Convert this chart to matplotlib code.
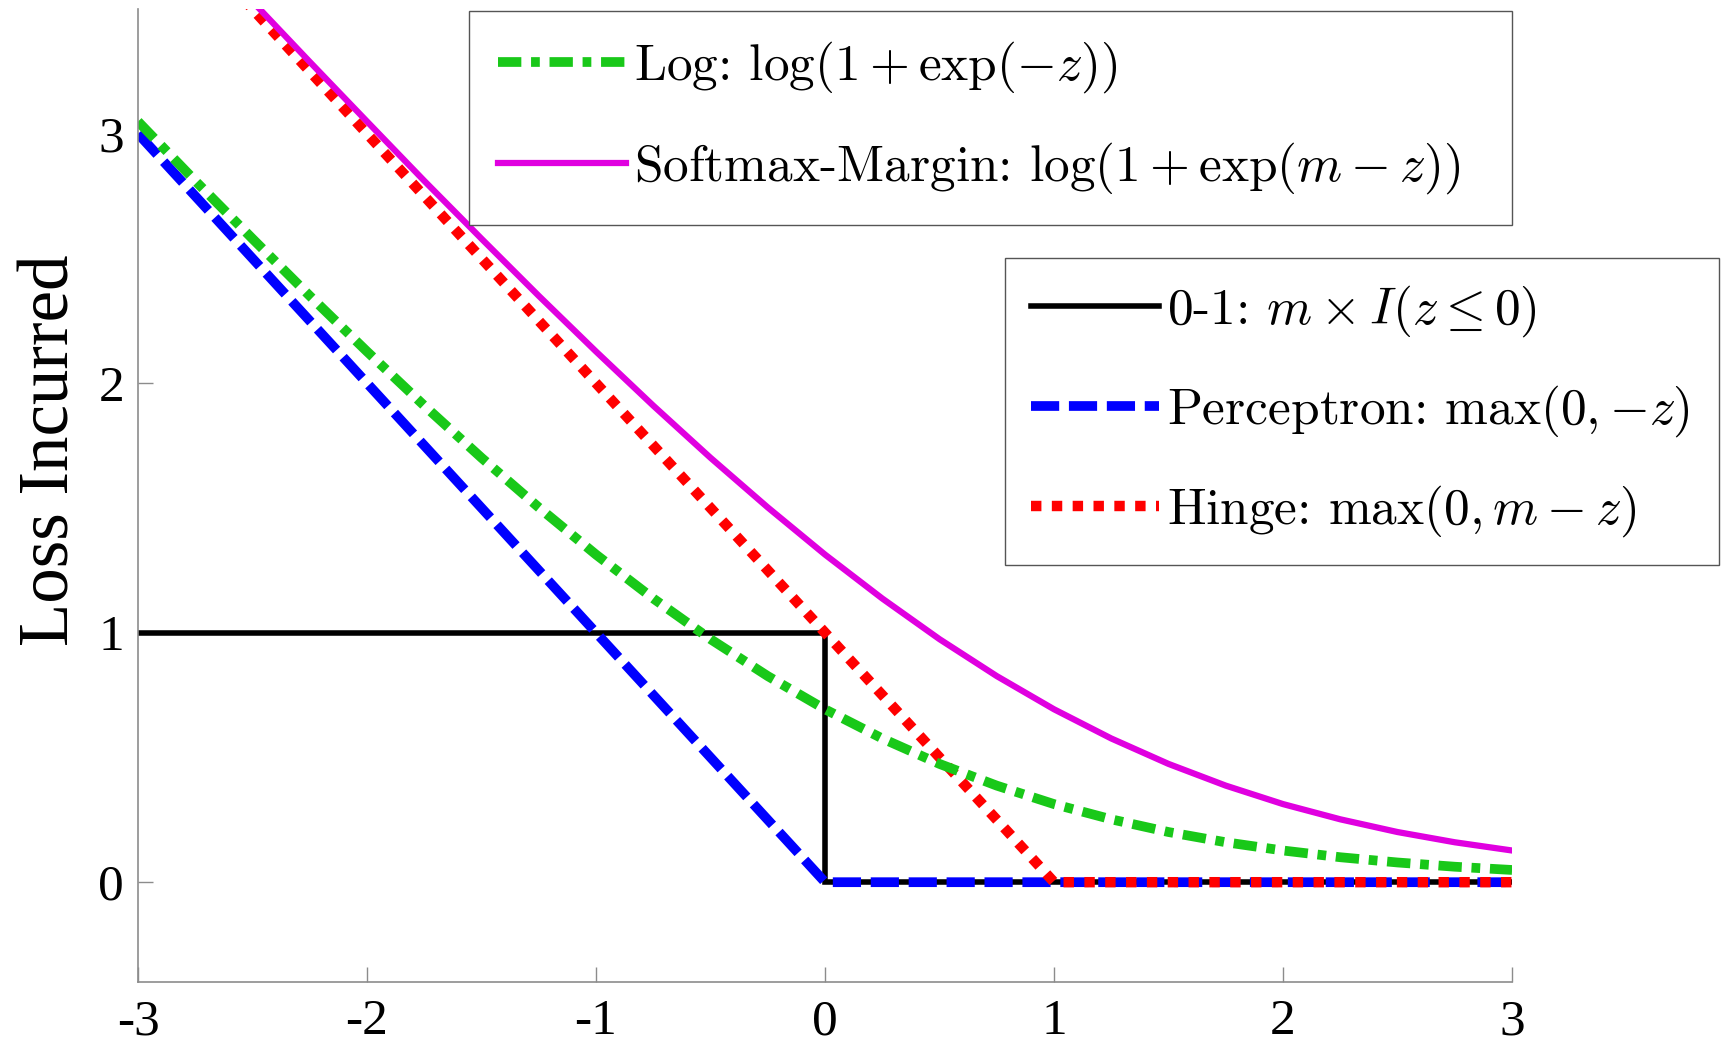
import matplotlib
matplotlib.use('Agg')
import matplotlib.pyplot as plt

plt.rcParams['font.family'] = ['Liberation Serif', 'DejaVu Serif']
plt.rcParams['mathtext.fontset'] = 'cm'
plt.rcParams['axes.unicode_minus'] = False

# --
# loss values sampled along the margin z

z_smooth = [-3.0, -2.75, -2.5, -2.25, -2.0, -1.75, -1.5, -1.25, -1.0, -0.75, -0.5, -0.25,
            0.0, 0.25, 0.5, 0.75, 1.0, 1.25, 1.5, 1.75, 2.0, 2.25, 2.5, 2.75, 3.0]
log_loss = [3.049, 2.811, 2.579, 2.350, 2.127, 1.910, 1.701, 1.502, 1.313, 1.137, 0.974, 0.826,
            0.693, 0.576, 0.474, 0.387, 0.313, 0.252, 0.201, 0.160, 0.127, 0.100, 0.079, 0.062, 0.049]
softmax_loss = [4.018, 3.773, 3.530, 3.288, 3.049, 2.811, 2.579, 2.350, 2.127, 1.910, 1.701, 1.502,
                1.313, 1.137, 0.974, 0.826, 0.693, 0.576, 0.474, 0.387, 0.313, 0.252, 0.201, 0.160, 0.127]

z_01 = [-3, 0, 0, 3]
loss_01 = [1, 1, 0, 0]

z_perc = [-3, 0, 3]
loss_perc = [3, 0, 0]

z_hinge = [-3, 1, 3]
loss_hinge = [4, 0, 0]

xticks = [-3, -2, -1, 0, 1, 2, 3]
yticks = [0, 1, 2, 3]

# --

W, H = 1721, 1045
fig = plt.figure(figsize=(W / 100, H / 100), dpi=100)
ax = fig.add_axes([0.0802, 0.0603, 0.7984, 0.9311])

h01, = ax.plot(z_01, loss_01, color='black', lw=4, solid_joinstyle='miter')
hperc, = ax.plot(z_perc, loss_perc, color='#0000ff', lw=7, dashes=(2.9, 1.0), dash_capstyle='butt')
hhinge, = ax.plot(z_hinge, loss_hinge, color='#ff0000', lw=7.5, dashes=(1.0, 1.0), dash_capstyle='butt')
hlog, = ax.plot(z_smooth, log_loss, color='#19c819', lw=7, dashes=(2.4, 1.0, 0.9, 1.0), dash_capstyle='butt')
hsoft, = ax.plot(z_smooth, softmax_loss, color='#e000e0', lw=4.5)

ax.set_xlim(-3, 3)
ax.set_ylim(-0.4, 3.5)
ax.set_xticks(xticks)
ax.set_yticks(yticks)
ax.set_xticklabels([str(v) for v in xticks])
ax.set_yticklabels([str(v) for v in yticks])

for s in ['top', 'right']:
  ax.spines[s].set_visible(False)
for s in ['left', 'bottom']:
  ax.spines[s].set_color('#8c8c8c')
  ax.spines[s].set_linewidth(1.2)

ax.tick_params(direction='in', length=11, width=1.0, color='#8c8c8c', labelsize=37)
ax.tick_params(axis='x', pad=12)
ax.tick_params(axis='y', pad=10)
ax.set_ylabel('Loss Incurred', fontsize=51)
ax.yaxis.set_label_coords(-0.040, 0.546)

legend_font = {'family': 'cmr10', 'size': 37}
legend_opts = dict(
  prop=legend_font, frameon=True, fancybox=False, framealpha=1,
  edgecolor='#555555', borderaxespad=0, handlelength=2.5, handletextpad=0.15,
  loc='upper left', mode='expand',
)

# boxes: (left, top, right) in pixels
leg1 = fig.legend(
  [hlog, hsoft],
  [r'Log: $\log(1+\exp(-z))$', r'Softmax-Margin: $\log(1+\exp(m-z))$'],
  bbox_to_anchor=(469 / W, 1 - 11 / H, (1512 - 469) / W, 0),
  labelspacing=0.88, borderpad=0.56, **legend_opts,
)
leg1.get_frame().set_linewidth(1.0)

leg2 = fig.legend(
  [h01, hperc, hhinge],
  [r'0-1: $m \times I(z \leq 0)$', r'Perceptron: $\max(0,{-z})$', r'Hinge: $\max(0,m-z)$'],
  bbox_to_anchor=(1005 / W, 1 - 258 / H, (1719 - 1005) / W, 0),
  labelspacing=0.86, borderpad=0.5, **legend_opts,
)
leg2.get_frame().set_linewidth(1.0)

fig.savefig('out.png', dpi=100)
